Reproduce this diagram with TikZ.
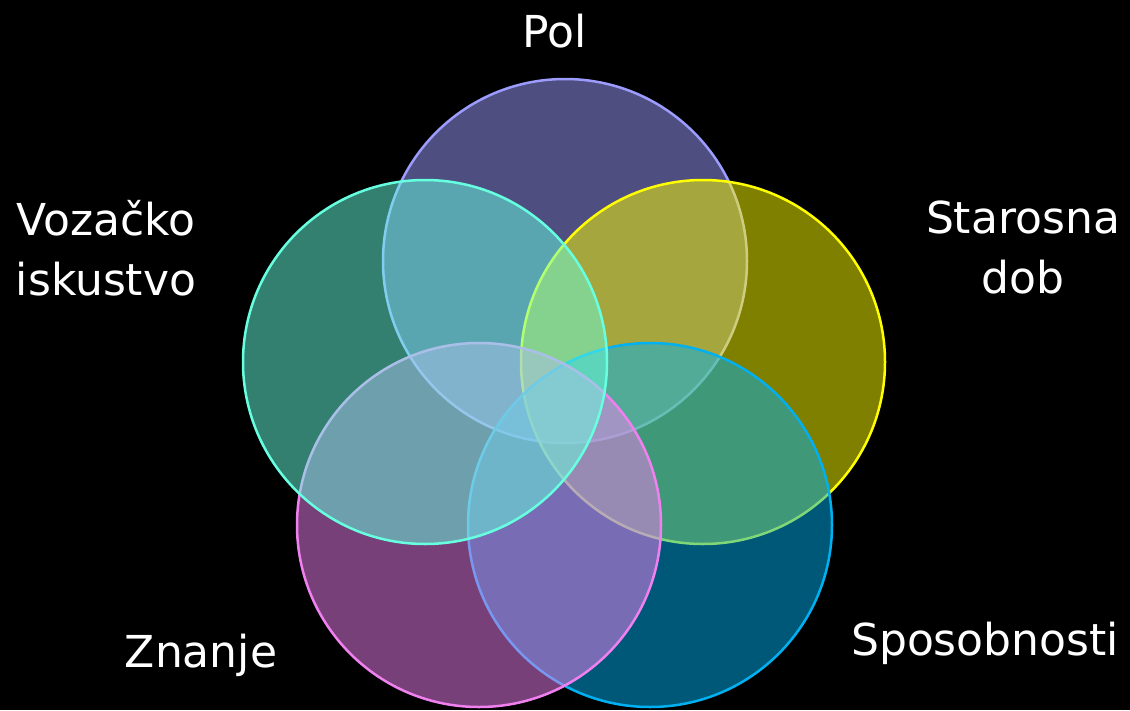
\documentclass[tikz,border=0pt]{standalone}
\usepackage{fontspec}
\setmainfont{DejaVu Sans}
\definecolor{polc}{HTML}{9C9CFF}
\definecolor{starc}{HTML}{FFFF00}
\definecolor{spoc}{HTML}{00B0F0}
\definecolor{znac}{HTML}{F080F0}
\definecolor{vozc}{HTML}{66FFE0}
\tikzset{
  venn/.style={circle, inner sep=0pt, minimum size=364pt, line width=2.5pt, draw=#1, fill=#1, fill opacity=0.5, draw opacity=1},
  lbl/.style={text=white, font=\fontsize{44}{60}\selectfont, align=center, anchor=base, inner sep=0pt}
}
\begin{document}
\begin{tikzpicture}[x=1pt,y=-1pt]
\fill[black] (0,0) rectangle (1130,710);
\useasboundingbox (0,0) rectangle (1130,710);
\node[venn=polc] (pol) at (565,261) {};
\node[venn=starc] (star) at (703,362) {};
\node[venn=spoc] (spo) at (650,525) {};
\node[venn=znac] (zna) at (479,525) {};
\node[venn=vozc] (voz) at (425,362) {};
\node[lbl] (tpol) at (555,47) {Pol};
\node[lbl] (tvoz) at (106,295) {Vozačko\\iskustvo};
\node[lbl] (tstar) at (1023,293) {Starosna\\dob};
\node[lbl] (tzna) at (201,667) {Znanje};
\node[lbl] (tspo) at (985,655) {Sposobnosti};
\end{tikzpicture}
\end{document}
